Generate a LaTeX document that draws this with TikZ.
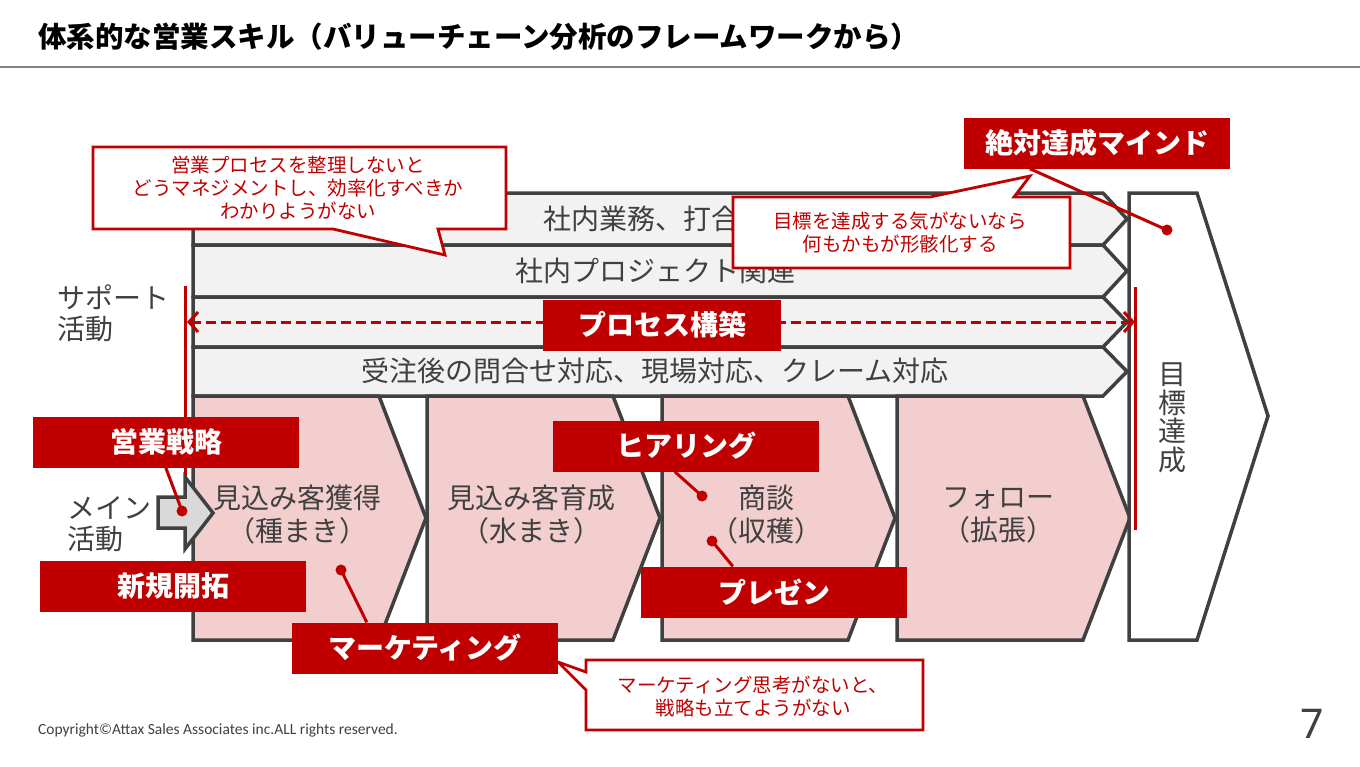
\documentclass[tikz,border=0pt]{standalone}
\usepackage{fontspec}
\setmainfont{Noto Sans CJK JP}
\newfontfamily\copyfont{Carlito}
\newfontfamily\pagefont{Noto Sans}
\usepackage{tikz}
\usetikzlibrary{arrows.meta}
\definecolor{frame}{RGB}{64,64,64}
\definecolor{accent}{RGB}{192,0,0}
\definecolor{rowfill}{RGB}{242,242,242}
\definecolor{stagefill}{RGB}{242,206,206}
\definecolor{blockfill}{RGB}{217,217,217}

\begin{document}
\begin{tikzpicture}[x=1pt,y=-1pt,
rowshape/.style={draw=frame,fill=rowfill,line width=3.5pt,line join=miter},
stageshape/.style={draw=frame,fill=stagefill,line width=3.5pt,line join=miter},
goalshape/.style={draw=frame,fill=white,line width=3.5pt,line join=miter},
gray/.style={text=frame,inner sep=0pt,font=\fontsize{28}{33}\selectfont},
tag/.style={fill=accent,text=white,minimum width=266pt,minimum height=51pt,inner sep=0pt,font=\fontsize{28}{30}\selectfont\bfseries},
note/.style={draw=accent,fill=white,line width=2.8pt,line join=miter},
notetext/.style={text=accent,align=center,inner sep=0pt,font=\fontsize{19.5}{23}\selectfont},
link/.style={draw=accent,line width=3pt},
dot/.style={fill=accent},
guide/.style={draw=accent,line width=3pt},
span/.style={draw=accent,line width=3pt,dash pattern=on 10pt off 5pt,{Straight Barb[length=9pt,width=20pt,line width=3pt]}-{Straight Barb[length=9pt,width=20pt,line width=3pt]}}
]

\useasboundingbox (0,0) rectangle (1360,766);

\node[anchor=west,inner sep=0pt,font=\fontsize{28.5}{30}\selectfont\bfseries] (title) at (38,37) {体系的な営業スキル（バリューチェーン分析のフレームワークから）};

\draw[draw=black!50,line width=2pt] (0,67) -- (1360,67);

\foreach \top/\bot in {193/245, 245/297, 297/347, 347/396} {
  \draw[rowshape] (193,\top) -- (1103,\top) -- (1127,{(\top+\bot)/2}) -- (1103,\bot) -- (193,\bot) -- cycle;
}

\node[gray] (row1) at (655,219) {社内業務、打合せ};

\node[gray] (row2) at (655,271) {社内プロジェクト関連};

\node[gray] (row4) at (655,371) {受注後の問合せ対応、現場対応、クレーム対応};

\foreach \x in {193, 427, 662, 897} {
  \draw[stageshape] (\x,396) -- (\x+186,396) -- (\x+233,518) -- (\x+186,640) -- (\x,640) -- cycle;
}

\node[gray,align=center] (stage1) at (297,515) {見込み客獲得\\（種まき）};

\node[gray,align=center] (stage2) at (531,515) {見込み客育成\\（水まき）};

\node[gray,align=center] (stage3) at (766,515) {商談\\（収穫）};

\node[gray,align=center] (stage4) at (998,515) {フォロー\\（拡張）};

\draw[goalshape] (1129,193) -- (1197,193) -- (1268,416) -- (1197,640) -- (1129,640) -- cycle;

\node[gray,align=center,font=\fontsize{28}{28.5}\selectfont] (goal) at (1172,418) {目\\標\\達\\成};

\node[gray,anchor=west,align=left,font=\fontsize{28}{31}\selectfont] (support) at (57,313) {サポート\\活動};

\node[gray,anchor=west,align=left,font=\fontsize{28}{31}\selectfont] (primary) at (67,524) {メイン\\活動};

\coordinate (lt) at (185,286);
\coordinate (lb) at (185,500);
\coordinate (rt) at (1135,287);
\coordinate (rb) at (1135,530);
\draw[guide] (lt) -- (lb);
\draw[guide] (rt) -- (rb);

\draw[draw=frame,fill=blockfill,line width=3.5pt,line join=miter] (158,497) -- (185,497) -- (185,477) -- (213,513) -- (185,549) -- (185,528) -- (158,528) -- cycle;

\coordinate (pl) at (187,322);
\coordinate (pr) at (1135,322);
\draw[span] (pl) -- (pr);

\node[tag,minimum width=238pt] (process) at (662,325) {プロセス構築};

\node[tag] (strategy) at (166,442) {営業戦略};

\node[tag] (newbiz) at (173,586) {新規開拓};

\node[tag] (marketing) at (425,648) {マーケティング};

\node[tag] (hearing) at (686,446) {ヒアリング};

\node[tag] (present) at (774,592) {プレゼン};

\node[tag] (mind) at (1097,143) {絶対達成マインド};

\coordinate (d1) at (182,511);
\coordinate (d2) at (341,570);
\coordinate (d3) at (702,496);
\coordinate (d4) at (712,541);
\coordinate (d5) at (1167,230);

\draw[link] ([xshift=133pt]strategy.south west) -- (d1);
\draw[link] ([xshift=75pt]marketing.north west) -- (d2);
\draw[link] ([xshift=122pt]hearing.south west) -- (d3);
\draw[link] ([xshift=92pt]present.north west) -- (d4);
\draw[link] ([xshift=66pt]mind.south west) -- (d5);
\foreach \d in {d1,d2,d3,d4,d5} \fill[dot] (\d) circle (5.5);

\draw[note] (93,147) -- (506,147) -- (506,229) -- (438,229) -- (445,255) -- (333,229) -- (93,229) -- cycle;
\node[notetext] (note1) at (298,188) {営業プロセスを整理しないと\\どうマネジメントし、効率化すべきか\\わかりようがない};

\draw[note] (733,197) -- (930,197) -- (1030,176) -- (1014,197) -- (1070,197) -- (1070,268) -- (733,268) -- cycle;
\node[notetext] (note2) at (900,233) {目標を達成する気がないなら\\何もかもが形骸化する};

\draw[note] (586,660) -- (923,660) -- (923,730) -- (586,730) -- (586,690) -- (558,662) -- (586,672) -- cycle;
\node[notetext] (note3) at (753,697) {マーケティング思考がないと、\\戦略も立てようがない};

\node[anchor=west,inner sep=0pt,text=frame,font=\copyfont\fontsize{15.5}{17}\selectfont] (copy) at (38,730) {Copyright©Attax Sales Associates inc.ALL rights reserved.};

\node[inner sep=0pt,text=frame,font=\pagefont\fontsize{41}{45}\selectfont] (page) at (1312,724) {7};

\end{tikzpicture}
\end{document}
